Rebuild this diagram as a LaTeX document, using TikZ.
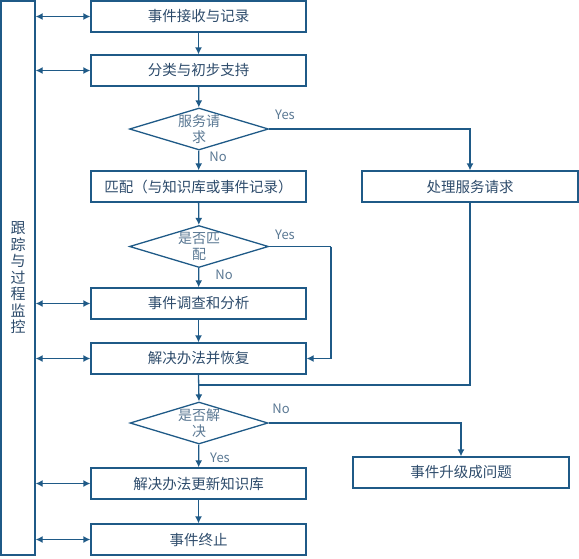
\documentclass[tikz,border=0pt]{standalone}
\usepackage{fontspec}
\setmainfont{Noto Sans CJK SC}
\usetikzlibrary{shapes.geometric,arrows.meta}
\definecolor{lc}{HTML}{1F5A87}
\definecolor{tc}{HTML}{2D4B6B}
\definecolor{dc}{HTML}{5A7893}
\tikzset{
  x=1pt,y=-1pt,
  box/.style={draw=lc,line width=1.3pt,rectangle,minimum width=215pt,minimum height=31pt,inner sep=0pt,text=tc,font=\fontsize{14.5}{17}\selectfont},
  dia/.style={draw=lc,line width=1.3pt,diamond,minimum width=139pt,minimum height=42pt,inner sep=0pt},
  dtext/.style={text=dc,align=center,font={\fontsize{14}{15.5}\selectfont\lineskiplimit=-20pt\lineskip=0pt},inner sep=0pt},
  lab/.style={text=dc,font=\fontsize{13}{15}\selectfont,inner sep=0pt},
  conn/.style={draw=lc,line width=1.3pt,-{Latex[length=7pt,width=7pt]}},
  dconn/.style={draw=lc,line width=1.3pt,{Latex[length=7pt,width=7pt]}-{Latex[length=7pt,width=7pt]}},
  plain/.style={draw=lc,line width=1.3pt}
}
\begin{document}
\begin{tikzpicture}
\useasboundingbox (0,0) rectangle (579,558);
\node[draw=lc,line width=1.3pt,rectangle,minimum width=34pt,minimum height=554pt,inner sep=0pt] (bar) at (18,278) {};
\node[text=tc,align=center,font=\fontsize{15}{16.5}\selectfont,inner sep=0pt] (bartext) at (18,278) {跟\\踪\\与\\过\\程\\监\\控};

\node[box] (b1) at (198.5,16.5) {事件接收与记录};
\node[box] (b2) at (198.5,70.5) {分类与初步支持};
\node[dia] (d1) at (199,129) {};
\node[dtext] (d1t) at (199,129) {服务请\\求};
\node[box] (b3) at (198.5,186.5) {匹配（与知识库或事件记录）};
\node[box,minimum width=216pt] (r1) at (470,186.5) {处理服务请求};
\node[dia] (d2) at (199,246.5) {};
\node[dtext] (d2t) at (199,246.5) {是否匹\\配};
\node[box] (b4) at (198.5,303.5) {事件调查和分析};
\node[box] (b5) at (198.5,358.5) {解决办法并恢复};
\coordinate (m) at (199,385);
\node[dia,minimum width=138pt] (d3) at (199,423) {};
\node[dtext] (d3t) at (199,423) {是否解\\决};
\node[box] (b6) at (198.5,483.5) {解决办法更新知识库};
\node[box] (b7) at (198.5,539.5) {事件终止};
\node[box,minimum width=216pt] (r2) at (461,472.5) {事件升级成问题};
\coordinate (y2) at (331,246.5);

\draw[conn] (b1) -- (b2);
\draw[conn] (b2) -- (d1);
\draw[conn] (d1) -- (b3);
\draw[conn] (d1.east) -| (r1.north);
\draw[conn] (b3) -- (d2);
\draw[conn] (d2) -- (b4);
\draw[plain] (d2.east) -- (y2);
\draw[conn] (y2) |- (b5.east);
\draw[conn] (b4) -- (b5);
\draw[conn] (b5.south) -- (d3.north);
\draw[plain] (r1.south) |- (m);
\draw[conn] (d3) -- (b6);
\draw[conn] (d3.east) -| (r2.north);
\draw[conn] (b6) -- (b7);

\foreach \b in {b1,b2,b4,b5,b6,b7}{
  \draw[dconn] (bar.east |- \b.west) -- (\b.west);
}

\node[lab] (l1) at (285,115) {Yes};
\node[lab] (l2) at (218,157) {No};
\node[lab] (l3) at (285,235) {Yes};
\node[lab] (l4) at (224,275) {No};
\node[lab] (l5) at (281,409) {No};
\node[lab] (l6) at (220,458) {Yes};
\end{tikzpicture}
\end{document}
